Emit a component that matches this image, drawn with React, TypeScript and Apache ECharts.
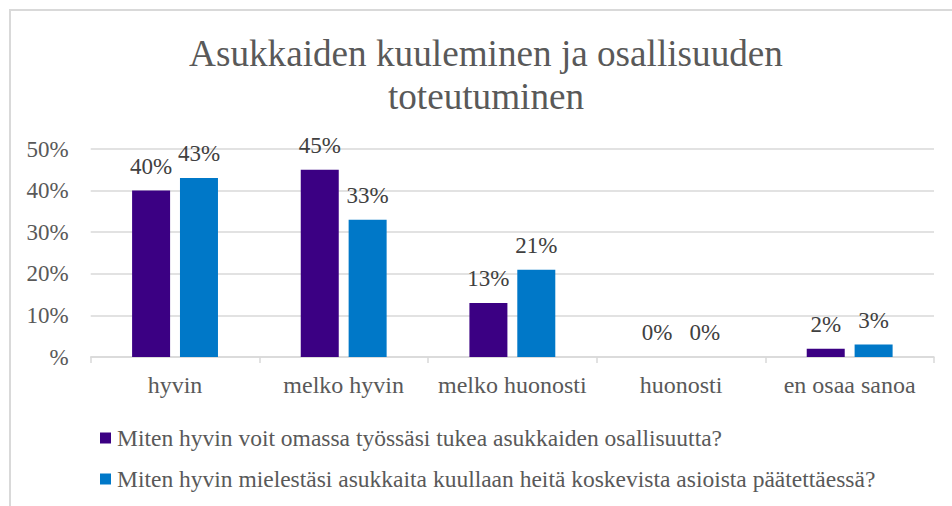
import React, { useEffect, useRef } from "react";
import * as echarts from "echarts";

const categories = ["hyvin", "melko hyvin", "melko huonosti", "huonosti", "en osaa sanoa"];
const seriesNames = [
  "Miten hyvin voit omassa työssäsi tukea asukkaiden osallisuutta?",
  "Miten hyvin mielestäsi asukkaita kuullaan heitä koskevista asioista päätettäessä?",
];
const series1 = [40, 45, 13, 0, 2];
const series2 = [43, 33, 21, 0, 3];
const yTicks = [0, 10, 20, 30, 40, 50];

const FONT = "Times New Roman, Liberation Serif, DejaVu Serif, serif";

export default function App() {
  const ref = useRef<HTMLDivElement>(null);
  useEffect(() => {
    if (!ref.current) return;
    const chart = echarts.init(ref.current, null, { renderer: "svg" });
    chart.setOption({
      animation: false,
      backgroundColor: "#ffffff",
      textStyle: { fontFamily: FONT },
      title: {
        text: "Asukkaiden kuuleminen ja osallisuuden\ntoteutuminen",
        left: 481,
        textAlign: "center",
        top: 27,
        textStyle: { fontFamily: FONT, fontSize: 37.2, fontWeight: "normal", color: "#595959", lineHeight: 43 },
      },
      graphic: [
        {
          type: "rect",
          shape: { x: 10, y: 10, width: 960, height: 520 },
          style: { fill: "none", stroke: "#d9d9d9", lineWidth: 2 },
          silent: true,
        },
      ],
      grid: { left: 90.7, right: 18, top: 149, bottom: 149 },
      xAxis: {
        type: "category",
        data: categories,
        boundaryGap: true,
        axisLine: { show: true, lineStyle: { color: "#d9d9d9", width: 1.5 } },
        axisTick: { show: true, alignWithLabel: false, length: 6, lineStyle: { color: "#d9d9d9", width: 1.5 } },
        axisLabel: { fontFamily: FONT, fontSize: 24, color: "#595959", margin: 16, interval: 0 },
      },
      yAxis: {
        type: "value",
        min: yTicks[0],
        max: yTicks[yTicks.length - 1],
        interval: 10,
        axisLine: { show: false },
        axisTick: { show: false },
        splitLine: { lineStyle: { color: "#d9d9d9", width: 1.5 } },
        axisLabel: {
          fontFamily: FONT,
          fontSize: 23,
          color: "#595959",
          margin: 22,
          formatter: (v: number) => (v === 0 ? "%" : `${v}%`),
        },
      },
      legend: {
        orient: "vertical",
        left: 95,
        top: 421,
        itemWidth: 11,
        itemHeight: 11,
        itemGap: 17,
        icon: "rect",
        textStyle: { fontFamily: FONT, fontSize: 23.5, color: "#595959", padding: [0, 0, 0, 1] },
        data: seriesNames,
      },
      series: [
        {
          name: seriesNames[0],
          type: "bar",
          data: series1,
          barWidth: 38,
          barGap: "26%",
          itemStyle: { color: "#3b0083" },
          label: {
            show: true,
            position: "top",
            distance: 13,
            formatter: "{c}%",
            fontFamily: FONT,
            fontSize: 23,
            color: "#404040",
          },
        },
        {
          name: seriesNames[1],
          type: "bar",
          data: series2,
          barWidth: 38,
          barGap: "26%",
          itemStyle: { color: "#0078c8" },
          label: {
            show: true,
            position: "top",
            distance: 13,
            formatter: "{c}%",
            fontFamily: FONT,
            fontSize: 23,
            color: "#404040",
          },
        },
      ],
    });
    return () => chart.dispose();
  }, []);
  return (
    <div
      ref={ref}
      style={{ position: "fixed", left: 0, top: 0, width: 952, height: 506, background: "#fff" }}
    />
  );
}
